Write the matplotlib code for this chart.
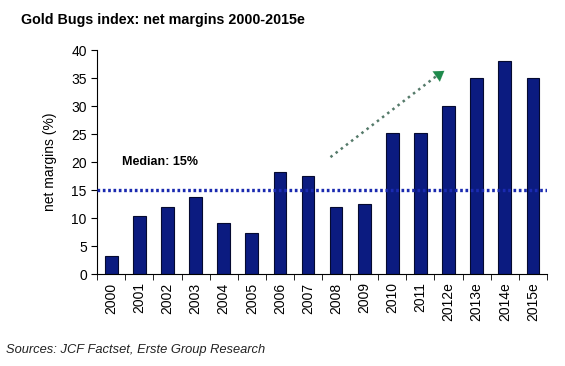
import numpy as np
import matplotlib
matplotlib.use("Agg")
import matplotlib.pyplot as plt

plt.rcParams["font.family"] = ["Liberation Sans", "DejaVu Sans"]

years = ["2000", "2001", "2002", "2003", "2004", "2005", "2006", "2007",
         "2008", "2009", "2010", "2011", "2012e", "2013e", "2014e", "2015e"]
margins = [3.3, 10.4, 12.0, 13.8, 9.2, 7.4, 18.2, 17.6,
           12.0, 12.5, 25.2, 25.2, 30.0, 35.0, 38.0, 35.0]
median = 15
yticks = [0, 5, 10, 15, 20, 25, 30, 35, 40]

fig = plt.figure(figsize=(5.65, 3.66), dpi=100)
ax = fig.add_axes([0.172, 0.251, 0.796, 0.612])

x = np.arange(len(years))
ax.bar(x, margins, width=0.45, color="#0b1b80", edgecolor="#050a30", linewidth=0.8, zorder=2)
ax.axhline(median, color="#1a2ab0", linestyle=(0, (0.8, 0.8)), linewidth=2.4, zorder=3)
ax.text(0.4, 19.0, "Median: 15%", fontsize=9, fontweight="bold", va="bottom")

# trend arrow: dotted shaft + solid green head
ax.plot([7.8, 11.55], [20.9, 35.3], color="#557a6a", linestyle=(0, (1, 1.6)),
        linewidth=1.8, zorder=3)
ax.annotate("", xy=(11.85, 36.3), xytext=(11.45, 34.9),
            arrowprops=dict(arrowstyle="-|>,head_length=0.7,head_width=0.45",
                            color="#1f8a4c", linewidth=0.1, shrinkA=0, shrinkB=0))

ax.set_xlim(-0.5, len(years) - 0.5)
ax.set_ylim(0, 40)
ax.set_yticks(yticks)
ax.tick_params(axis="y", labelsize=10, length=4, direction="out")
ax.set_xticks(x)
ax.set_xticklabels(years, rotation=90, fontsize=10)
ax.tick_params(axis="x", length=0, pad=6)
ax.set_xticks(np.arange(len(years) + 1) - 0.5, minor=True)
ax.tick_params(axis="x", which="minor", length=4, direction="out")
ax.set_ylabel("net margins (%)", fontsize=10, labelpad=10)
for s in ("top", "right"):
    ax.spines[s].set_visible(False)

fig.text(0.037, 0.945, "Gold Bugs index: net margins 2000-2015e", fontsize=10.3,
         fontweight="bold", va="center")
fig.text(0.01, 0.045, "Sources: JCF Factset, Erste Group Research", fontsize=9.3,
         style="italic", va="center", color="#222222")

fig.savefig("out.png", dpi=100)
